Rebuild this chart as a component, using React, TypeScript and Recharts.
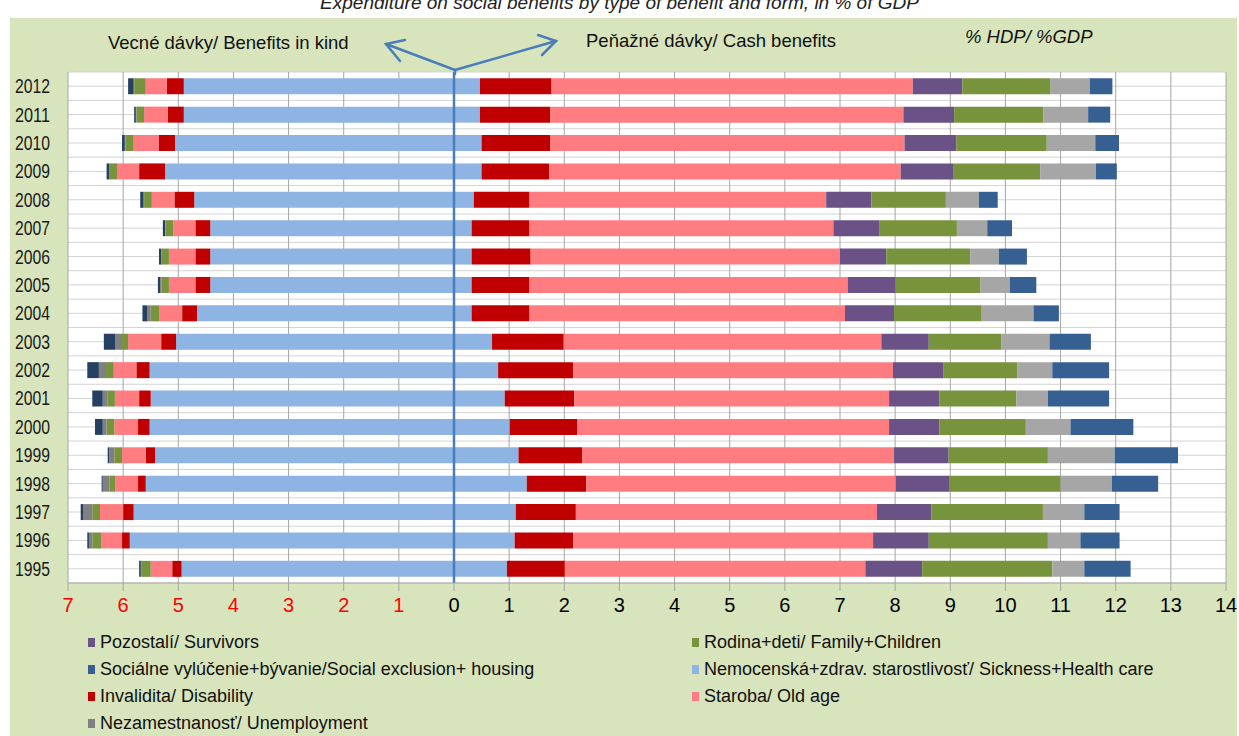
import { Bar, BarChart, CartesianGrid, ReferenceLine, XAxis, YAxis } from 'recharts'

// years bottom -> top
const years = ['1995', '1996', '1997', '1998', '1999', '2000', '2001', '2002', '2003', '2004', '2005', '2006', '2007', '2008', '2009', '2010', '2011', '2012']

// benefits in kind (% GDP), drawn to the left
const kindSickness = [4.94, 5.88, 5.81, 5.59, 5.42, 5.52, 5.5, 5.52, 5.04, 4.66, 4.42, 4.42, 4.42, 4.71, 5.24, 5.06, 4.9, 4.9]
const kindDisability = [0.17, 0.14, 0.19, 0.14, 0.17, 0.21, 0.21, 0.24, 0.27, 0.27, 0.27, 0.27, 0.27, 0.36, 0.47, 0.29, 0.29, 0.31]
const kindOldAge = [0.39, 0.38, 0.42, 0.41, 0.43, 0.43, 0.44, 0.41, 0.6, 0.41, 0.48, 0.48, 0.4, 0.41, 0.39, 0.46, 0.43, 0.38]
const kindFamily = [0.16, 0.16, 0.14, 0.11, 0.14, 0.14, 0.13, 0.14, 0.11, 0.16, 0.13, 0.13, 0.14, 0.14, 0.14, 0.15, 0.14, 0.21]
const kindUnemployment = [0.02, 0.06, 0.16, 0.12, 0.09, 0.07, 0.09, 0.13, 0.12, 0.06, 0.03, 0.01, 0.01, 0.01, 0.01, 0.01, 0.01, 0.01]
const kindSocial = [0.03, 0.03, 0.05, 0.02, 0.03, 0.14, 0.19, 0.21, 0.21, 0.09, 0.04, 0.04, 0.04, 0.06, 0.05, 0.05, 0.03, 0.1]

// cash benefits (% GDP), drawn to the right
const cashSickness = [0.96, 1.1, 1.12, 1.32, 1.17, 1.01, 0.92, 0.8, 0.69, 0.32, 0.32, 0.32, 0.32, 0.36, 0.5, 0.5, 0.47, 0.47]
const cashDisability = [1.05, 1.06, 1.09, 1.08, 1.16, 1.23, 1.26, 1.36, 1.3, 1.05, 1.05, 1.07, 1.05, 1.01, 1.23, 1.25, 1.28, 1.3]
const cashOldAge = [5.45, 5.44, 5.46, 5.61, 5.65, 5.65, 5.71, 5.8, 5.76, 5.72, 5.77, 5.61, 5.51, 5.38, 6.37, 6.42, 6.4, 6.55]
const cashSurvivors = [1.03, 1.01, 0.99, 0.98, 0.99, 0.91, 0.91, 0.91, 0.86, 0.89, 0.87, 0.84, 0.84, 0.82, 0.95, 0.94, 0.92, 0.9]
const cashFamily = [2.36, 2.16, 2.02, 2.01, 1.8, 1.57, 1.4, 1.35, 1.32, 1.59, 1.54, 1.52, 1.4, 1.35, 1.58, 1.64, 1.62, 1.6]
const cashUnemployment = [0.58, 0.59, 0.75, 0.93, 1.21, 0.81, 0.57, 0.63, 0.87, 0.94, 0.53, 0.52, 0.55, 0.6, 1.01, 0.88, 0.81, 0.71]
const cashSocial = [0.84, 0.71, 0.64, 0.84, 1.15, 1.14, 1.11, 1.03, 0.75, 0.46, 0.48, 0.51, 0.45, 0.34, 0.38, 0.43, 0.4, 0.41]

const xTicks = [-7, -6, -5, -4, -3, -2, -1, 0, 1, 2, 3, 4, 5, 6, 7, 8, 9, 10, 11, 12, 13, 14]

const legendLeft = [
  { label: 'Pozostalí/ Survivors', color: '#6A5287' },
  { label: 'Sociálne vylúčenie+bývanie/Social exclusion+ housing', color: '#366092' },
  { label: 'Invalidita/ Disability', color: '#C00000' },
  { label: 'Nezamestnanosť/ Unemployment', color: '#808080' },
]
const legendRight = [
  { label: 'Rodina+deti/ Family+Children', color: '#77933C' },
  { label: 'Nemocenská+zdrav. starostlivosť/ Sickness+Health care', color: '#8EB4E3' },
  { label: 'Staroba/ Old age', color: '#FF7C80' },
]

const data = years.map((year, i) => ({
  year,
  kSick: -kindSickness[i],
  cSick: cashSickness[i],
  kDis: -kindDisability[i],
  cDis: cashDisability[i],
  kOld: -kindOldAge[i],
  cOld: cashOldAge[i],
  cSurv: cashSurvivors[i],
  kFam: -kindFamily[i],
  cFam: cashFamily[i],
  kUnemp: -kindUnemployment[i],
  cUnemp: cashUnemployment[i],
  kSoc: -kindSocial[i],
  cSoc: cashSocial[i],
}))

const FONT = "'Liberation Sans Narrow', 'Arial Narrow', 'Liberation Sans', Arial, sans-serif"

const XTick = ({ x, y, payload }: any) => (
  <text x={x} y={y + 19} textAnchor="middle" fontSize={20} fontFamily={FONT} fill={payload.value < 0 ? '#FF0000' : '#000'}>
    {Math.abs(payload.value)}
  </text>
)

const YTick = ({ x, y, payload }: any) => (
  <text
    x={x - 45}
    y={y + 7}
    fontSize={20}
    fontFamily={FONT}
    fill="#1a1a1a"
    textLength={35}
    lengthAdjust="spacingAndGlyphs"
  >
    {payload.value}
  </text>
)

const series = [
  { key: 'kSick', color: '#8EB4E3' },
  { key: 'cSick', color: '#8EB4E3' },
  { key: 'kDis', color: '#C00000' },
  { key: 'cDis', color: '#C00000' },
  { key: 'kOld', color: '#FF7C80' },
  { key: 'cOld', color: '#FF7C80' },
  { key: 'cSurv', color: '#6A5287' },
  { key: 'kFam', color: '#77933C' },
  { key: 'cFam', color: '#77933C' },
  { key: 'kUnemp', color: '#808080' },
  { key: 'cUnemp', color: '#A6A6A6' },
  { key: 'kSoc', color: '#254061' },
  { key: 'cSoc', color: '#366092' },
]

const LegendItem = ({ label, color }: { label: string; color: string }) => (
  <div style={{ display: 'flex', alignItems: 'center', height: 27 }}>
    <span style={{ width: 7, height: 9, background: color, marginRight: 5, display: 'inline-block' }} />
    <span>{label}</span>
  </div>
)

export default function App() {
  return (
    <div style={{ position: 'absolute', left: 0, top: 0, width: 1239, height: 736, background: '#fff', overflow: 'hidden', fontFamily: FONT }}>
      <div style={{ position: 'absolute', left: 0, top: -8, width: 1239, textAlign: 'center', fontStyle: 'italic', fontSize: 19, color: '#222' }}>
        Expenditure on social benefits by type of benefit and form, in % of GDP
      </div>
      <div style={{ position: 'absolute', left: 10, top: 18, width: 1227, height: 718, background: '#D8E4BC' }} />

      <div style={{ position: 'absolute', left: 108, top: 32, fontSize: 18.5, color: '#111' }}>Vecné dávky/ Benefits in kind</div>
      <div style={{ position: 'absolute', left: 586, top: 30, fontSize: 18.5, color: '#111' }}>Peňažné dávky/ Cash benefits</div>
      <div style={{ position: 'absolute', left: 965, top: 26, fontSize: 18.5, fontStyle: 'italic', color: '#111' }}>% HDP/ %GDP</div>

      <div style={{ position: 'absolute', left: 0, top: 0 }}>
        <BarChart
          width={1239}
          height={736}
          data={data}
          layout="vertical"
          stackOffset="sign"
          barCategoryGap="22%"
          margin={{ top: 72, right: 13, bottom: 113, left: 13 }}
        >
          <CartesianGrid
            vertical={false}
            fill="#fff"
            stroke="#D4D4D4"
            horizontalCoordinatesGenerator={({ offset }: any) =>
              Array.from({ length: 37 }, (_, k) => offset.top + (k * offset.height) / 36)
            }
          />
          <CartesianGrid horizontal={false} stroke="#A6A6A6" />
          <XAxis
            type="number"
            domain={[-7, 14]}
            ticks={xTicks}
            interval={0}
            height={40}
            axisLine={{ stroke: '#A6A6A6' }}
            tickLine={{ stroke: '#A6A6A6' }}
            tickSize={8}
            tick={<XTick />}
          />
          <YAxis type="category" dataKey="year" reversed width={55} axisLine={false} tickLine={false} tick={<YTick />} interval={0} />
          {series.map((s) => (
            <Bar key={s.key} dataKey={s.key} stackId="a" fill={s.color} isAnimationActive={false} />
          ))}
          <ReferenceLine x={0} stroke="#4A7EBB" strokeWidth={2.5} />
        </BarChart>
      </div>

      <svg style={{ position: 'absolute', left: 0, top: 0 }} width={1239} height={736}>
        <g stroke="#4A7EBB" strokeWidth={2.5} fill="none" strokeLinecap="round">
          <line x1={455} y1={70} x2={455} y2={74} />
          <line x1={455} y1={70} x2={386} y2={44} />
          <polyline points="405,40 386,44 400,61" />
          <line x1={455} y1={70} x2={556} y2={41} />
          <polyline points="538,35 556,41 542,55" />
        </g>
      </svg>

      <div style={{ position: 'absolute', left: 88, top: 629, fontSize: 18, color: '#111' }}>
        {legendLeft.map((l) => (
          <LegendItem key={l.label} {...l} />
        ))}
      </div>
      <div style={{ position: 'absolute', left: 692, top: 629, fontSize: 18, color: '#111' }}>
        {legendRight.map((l) => (
          <LegendItem key={l.label} {...l} />
        ))}
      </div>
    </div>
  )
}
